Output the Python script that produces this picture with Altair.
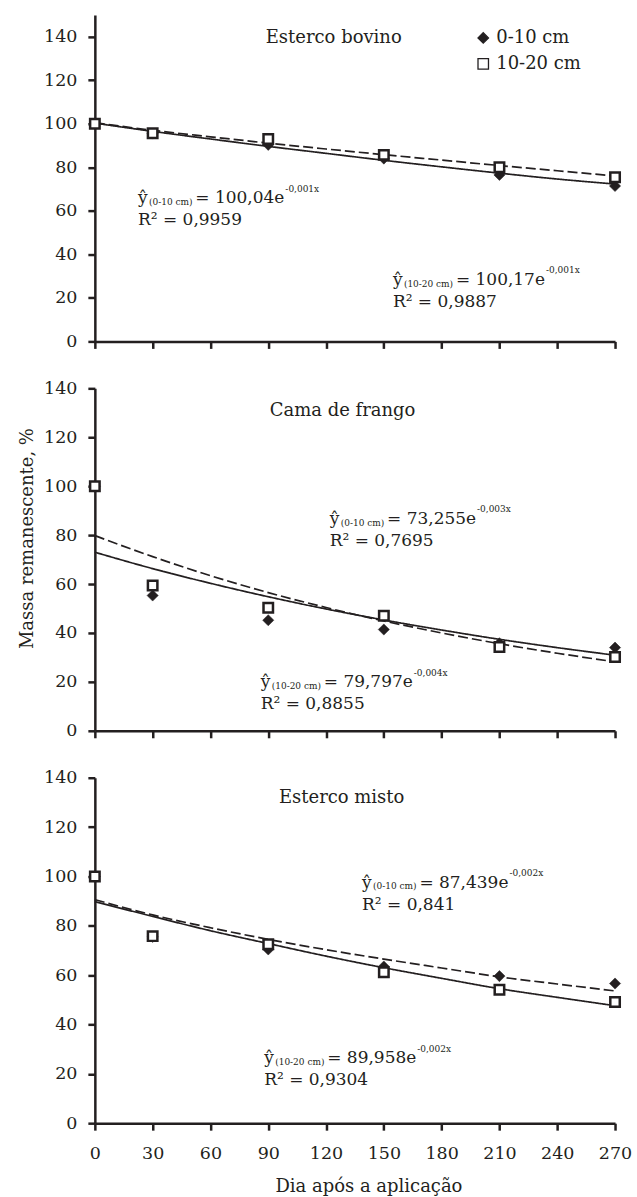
import altair as alt
import pandas as pd

# ---------------- data ----------------
panels = ["Esterco bovino", "Cama de frango", "Esterco misto"]
depths = ["0-10 cm", "10-20 cm"]
days = [0, 30, 90, 150, 210, 270]

bovino_0_10 = [100.0, 95.5, 90.3, 84.0, 76.5, 71.4]
bovino_10_20 = [100.0, 95.6, 93.0, 85.7, 80.0, 75.4]
frango_0_10 = [100.0, 55.3, 45.2, 41.4, 35.8, 34.0]
frango_10_20 = [100.0, 59.4, 50.3, 47.0, 34.3, 30.2]
misto_0_10 = [100.0, 75.5, 70.4, 63.5, 59.6, 56.6]
misto_10_20 = [100.0, 75.8, 72.5, 61.2, 54.1, 49.1]

curve_days = [0, 30, 60, 90, 120, 150, 180, 210, 240, 270]
bovino_solid = [100.3, 96.5, 93.0, 89.6, 86.4, 83.2, 80.2, 77.3, 74.6, 72.3]
bovino_dashed = [100.5, 97.0, 94.0, 91.1, 88.4, 85.8, 83.3, 80.8, 78.4, 76.0]
frango_solid = [73.0, 66.3, 60.3, 54.8, 49.8, 45.3, 41.2, 37.4, 34.0, 30.9]
frango_dashed = [79.8, 71.2, 63.4, 56.5, 50.4, 44.9, 40.0, 35.6, 31.7, 28.2]
misto_solid = [89.8, 83.8, 78.0, 72.8, 67.7, 63.0, 58.7, 54.5, 51.0, 47.6]
misto_dashed = [90.6, 84.4, 79.2, 74.5, 70.3, 66.5, 62.9, 59.3, 56.4, 53.6]

eq_sub = ["(0-10 cm)", "(10-20 cm)"]
eq_main = [["= 100,04e", "= 100,17e"],
           ["= 73,255e", "= 79,797e"],
           ["= 87,439e", "= 89,958e"]]
eq_exp = [["-0,001x", "-0,001x"],
          ["-0,003x", "-0,004x"],
          ["-0,002x", "-0,002x"]]
eq_r2 = [["R² = 0,9959", "R² = 0,9887"],
         ["R² = 0,7695", "R² = 0,8855"],
         ["R² = 0,841", "R² = 0,9304"]]

x_ticks = [0, 30, 60, 90, 120, 150, 180, 210, 240, 270]
y_ticks = [0, 20, 40, 60, 80, 100, 120, 140]
x_title = "Dia após a aplicação"
y_title = "Massa remanescente, %"

# ---------------- tables ----------------
pt_series = [(bovino_0_10, bovino_10_20), (frango_0_10, frango_10_20), (misto_0_10, misto_10_20)]
cv_series = [(bovino_solid, bovino_dashed), (frango_solid, frango_dashed), (misto_solid, misto_dashed)]

pt_rows, cv_rows = [], []
for p, (a, b) in zip(panels, pt_series):
    for d, vals in zip(depths, (a, b)):
        for x, v in zip(days, vals):
            pt_rows.append({"panel": p, "day": x, "mass": v, "depth": d})
for p, (s, dsh) in zip(panels, cv_series):
    for st, vals in zip(["solid", "dashed"], (s, dsh)):
        for x, v in zip(curve_days, vals):
            cv_rows.append({"panel": p, "day": x, "mass": v, "style": st})
points = pd.DataFrame(pt_rows)
curves = pd.DataFrame(cv_rows)

# ---------------- styling / layout ----------------
FONT = "DejaVu Serif"
INK = "#231f20"
W_PLOT = 521
HEIGHTS = [327, 343, 346]
YMAX = [150, 140, 140]
PXU = W_PLOT / 270.0
MAIN, SMALL = 17, 9

EQ_ANCHOR = [[(22.4, 63.4), (154.7, 26.0)],
             [(121.9, 84.5), (86.1, 17.7)],
             [(138.7, 95.4), (87.9, 24.3)]]
TITLE_ANCHOR = [(124.0, 137.3), (128.6, 128.6), (128.1, 129.6)]

CW = {' ': 0.318, ',': 0.318, '-': 0.338, '(': 0.390, ')': 0.390, '=': 0.838,
      'c': 0.561, 'm': 0.952, 'e': 0.592, 'x': 0.564, 'ŷ': 0.565, 'R': 0.770, '²': 0.401}
for ch in "0123456789":
    CW[ch] = 0.636


def tw(s, size):
    return sum(CW.get(c, 0.6) for c in s) * size


def panel_chart(i):
    xs = alt.Scale(domain=[0, 270], nice=False)
    ys = alt.Scale(domain=[0, YMAX[i]], nice=False)
    last = i == 2
    xaxis = alt.Axis(
        values=x_ticks, grid=False, labels=last, title=x_title if last else None,
        labelFlush=False, labelOverlap=False,
        domainColor=INK, domainWidth=2.5, tickColor=INK, tickWidth=2.5, tickSize=7,
        labelFont=FONT, labelFontSize=17.5, labelColor=INK, labelPadding=14,
        titleFont=FONT, titleFontSize=18, titleFontWeight="normal", titleColor=INK,
        titleX=274, titleY=68, titleBaseline="alphabetic", titleAlign="center",
    )
    yargs = dict(
        values=y_ticks, grid=False, domainColor=INK, domainWidth=2.5, tickColor=INK,
        tickWidth=2.5, tickSize=7, labelFont=FONT, labelFontSize=17.5, labelColor=INK,
        labelPadding=11, labelFlush=False, labelOverlap=False,
    )
    if i == 1:
        yaxis = alt.Axis(title=y_title, titleFont=FONT, titleFontSize=18,
                         titleFontWeight="normal", titleColor=INK, titleX=-62, titleY=150,
                         titleAngle=270, titleBaseline="alphabetic", titleAlign="center", **yargs)
    else:
        yaxis = alt.Axis(title=None, **yargs)

    def X(field):
        return alt.X(field, scale=xs, axis=xaxis)

    def Y(field):
        return alt.Y(field, scale=ys, axis=yaxis)

    crv = curves[curves.panel == panels[i]]
    pts = points[points.panel == panels[i]]

    lines = alt.Chart(crv).mark_line(color=INK, strokeWidth=1.7, interpolate="monotone").encode(
        x=X("day:Q"), y=Y("mass:Q"),
        detail="style:N",
        strokeDash=alt.StrokeDash("style:N", scale=alt.Scale(domain=["solid", "dashed"],
                                  range=[[1, 0], [10, 4]]), legend=None),
    )

    if i == 0:
        leg = alt.Legend(orient="none", legendX=380, legendY=14, title=None,
                         labelFont=FONT, labelFontSize=18, labelColor=INK, labelOffset=4,
                         symbolSize=110, symbolStrokeWidth=1.3, symbolStrokeColor=INK,
                         rowPadding=8, padding=0)
    else:
        leg = None
    shape_enc = alt.Shape("depth:N", scale=alt.Scale(domain=depths, range=["diamond", "square"]), legend=leg)
    fill_enc = alt.Fill("depth:N", scale=alt.Scale(domain=depths, range=[INK, "white"]), legend=leg)
    stroke_enc = alt.Stroke("depth:N", scale=alt.Scale(domain=depths, range=[INK, INK]), legend=leg)

    diamonds = alt.Chart(pts[pts.depth == depths[0]]).mark_point(
        filled=True, strokeWidth=0.5, size=125, opacity=1
    ).encode(x=X("day:Q"), y=Y("mass:Q"), shape=shape_enc, fill=fill_enc, stroke=stroke_enc)
    squares = alt.Chart(pts[pts.depth == depths[1]]).mark_point(
        filled=True, strokeWidth=2.5, size=90, opacity=1
    ).encode(x=X("day:Q"), y=Y("mass:Q"), shape=shape_enc, fill=fill_enc, stroke=stroke_enc)

    main_rows, sub_rows, sup_rows, r2_rows = [], [], [], []
    for k in range(2):
        x0, y0 = EQ_ANCHOR[i][k]
        main_rows.append({"ax": x0, "ay": y0, "label": "ŷ"})
        sub_x = x0 + 11 / PXU
        sub_rows.append({"ax": sub_x, "ay": y0, "label": eq_sub[k]})
        m_x = sub_x + (tw(eq_sub[k], SMALL) + 2.7) / PXU
        main_rows.append({"ax": m_x, "ay": y0, "label": eq_main[i][k]})
        s_x = m_x + (tw(eq_main[i][k], MAIN) + 1) / PXU
        sup_rows.append({"ax": s_x, "ay": y0, "label": eq_exp[i][k]})
        r2_rows.append({"ax": x0, "ay": y0, "label": eq_r2[i][k]})
    tx, ty = TITLE_ANCHOR[i]
    title_df = pd.DataFrame([{"ax": tx, "ay": ty, "label": panels[i]}])

    def text_layer(df, size, dy=0, align="left"):
        return alt.Chart(df).mark_text(
            font=FONT, fontSize=size, color=INK, align=align, baseline="alphabetic", dy=dy
        ).encode(x=X("ax:Q"), y=Y("ay:Q"), text="label:N")

    layers = [
        lines, diamonds, squares,
        text_layer(pd.DataFrame(main_rows), MAIN),
        text_layer(pd.DataFrame(sub_rows), SMALL, dy=1.7),
        text_layer(pd.DataFrame(sup_rows), SMALL, dy=-11.7),
        text_layer(pd.DataFrame(r2_rows), MAIN, dy=22),
        text_layer(title_df, 18, align="center"),
    ]
    return alt.layer(*layers).properties(width=W_PLOT, height=HEIGHTS[i])


chart = alt.vconcat(*[panel_chart(i) for i in range(3)], spacing=47, bounds="flush").resolve_scale(
    shape="independent", fill="independent", stroke="independent", strokeDash="independent",
).properties(
    padding={"left": 18, "top": 13, "right": 4, "bottom": 2}
).configure_view(stroke="transparent")

chart.save("out.html", embed_options={"renderer": "svg", "actions": False})
